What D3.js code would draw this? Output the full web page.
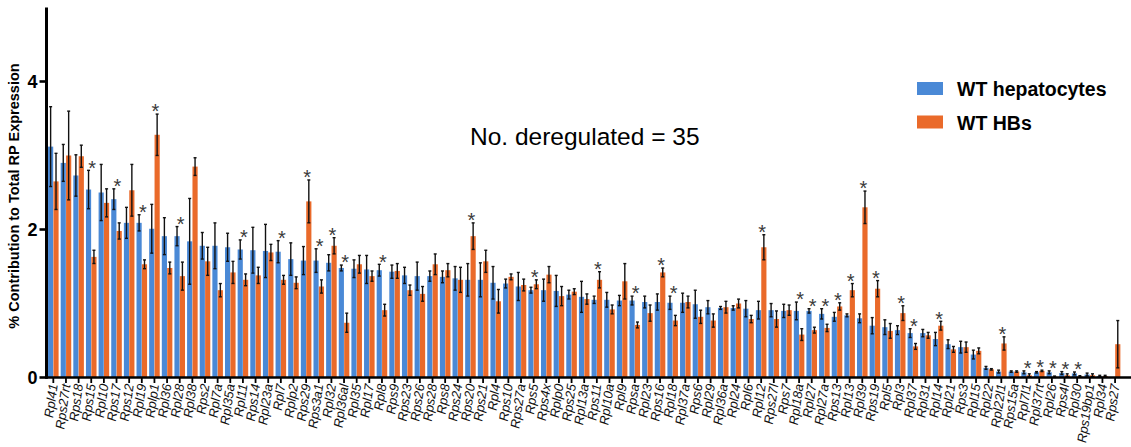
<!DOCTYPE html>
<html>
<head>
<meta charset="utf-8">
<title>RP expression</title>
<script src="https://cdn.jsdelivr.net/npm/d3@7"></script>
<style>
  body { margin: 0; background: #fff; }
  svg { display: block; font-family: "Liberation Sans", Arial, sans-serif; }
</style>
</head>
<body>
<div id="chart"></div>
<script>
// genes, in plotted order
var genes = ["Rpl41","Rps27rt","Rps18","Rps15","Rpl10","Rps17","Rps12","Rpl19","Rplp1","Rpl36",
  "Rpl28","Rpl38","Rps2","Rpl7a","Rpl35a","Rpl11","Rps14","Rpl23a","Rpl7","Rplp2",
  "Rps29","Rps3a1","Rpl32","Rpl36al","Rpl35","Rpl17","Rpl8","Rps9","Rps23","Rps26",
  "Rps28","Rps8","Rps24","Rps20","Rps21","Rpl4","Rps10","Rps27a","Rps5","Rps4x",
  "Rplp0","Rps25","Rpl13a","Rps11","Rpl10a","Rpl9","Rpsa","Rpl23","Rps16","Rpl18",
  "Rpl37a","Rps6","Rpl29","Rpl36a","Rpl24","Rpl6","Rpl12","Rps27l","Rps7","Rpl18a",
  "Rpl27","Rpl27a","Rps13","Rpl13","Rpl39","Rps19","Rpl5","Rpl3","Rpl37","Rpl31",
  "Rpl14","Rpl21","Rps3","Rpl15","Rpl22","Rpl22l1","Rps15a","Rpl7l1","Rpl37rt","Rpl26",
  "Rps4l","Rpl30","Rps19bp1","Rpl34","Rps27"];

// WT hepatocytes: mean and sd
var hepMean = [3.12,2.90,2.73,2.54,2.50,2.41,2.09,2.09,2.01,1.91,
  1.91,1.84,1.78,1.78,1.76,1.73,1.72,1.71,1.70,1.60,
  1.58,1.58,1.55,1.48,1.47,1.46,1.45,1.43,1.38,1.37,
  1.37,1.36,1.34,1.32,1.32,1.28,1.27,1.23,1.18,1.18,
  1.17,1.12,1.09,1.05,1.05,1.04,1.04,1.02,1.02,1.01,
  1.01,0.99,0.95,0.94,0.94,0.93,0.91,0.91,0.90,0.90,
  0.90,0.86,0.82,0.84,0.80,0.70,0.68,0.64,0.60,0.60,
  0.52,0.45,0.41,0.31,0.13,0.08,0.08,0.07,0.07,0.07,
  0.06,0.055,0.04,0.02,0];
var hepSd = [0.53,0.24,0.27,0.25,0.37,0.13,0.20,0.10,0.32,0.24,
  0.12,0.57,0.17,0.30,0.18,0.12,0.30,0.35,0.14,0.21,
  0.18,0.15,0.10,0.03,0.11,0.18,0.07,0.08,0.10,0.18,
  0.06,0.07,0.15,0.21,0.22,0.21,0.05,0.18,0.03,0.14,
  0.20,0.05,0.20,0.04,0.09,0.06,0.05,0.07,0.10,0.08,
  0.12,0.18,0.08,0.01,0.02,0.10,0.11,0.08,0.08,0.11,
  0.02,0.06,0.05,0.01,0.05,0.10,0.09,0.05,0.05,0.04,
  0.08,0.05,0.07,0.05,0.01,0.01,0,0.01,0,0.01,
  0.01,0.01,0.01,0,0];

// WT HBs: mean and sd
var hbMean = [2.65,3.00,2.99,1.63,2.36,1.98,2.53,1.53,3.28,1.48,
  1.37,2.85,1.57,1.18,1.42,1.32,1.38,1.69,1.32,1.28,
  2.38,1.23,1.78,0.74,1.53,1.37,0.91,1.44,1.18,1.13,
  1.53,1.45,1.32,1.91,1.57,1.03,1.36,1.25,1.26,1.39,
  1.10,1.16,1.06,1.32,0.92,1.30,0.71,0.87,1.42,0.77,
  1.02,0.82,0.77,0.95,1.00,0.79,1.76,0.79,0.91,0.58,
  0.64,0.67,0.96,1.18,2.30,1.20,0.63,0.87,0.42,0.57,
  0.70,0.38,0.41,0.36,0.11,0.46,0.08,0.03,0.09,0.01,
  0.03,0.015,0.03,0.02,0.45];
var hbSd = [0.37,0.59,0.14,0.08,0.18,0.10,0.34,0.05,0.27,0.07,
  0.18,0.11,0.18,0.08,0.14,0.07,0.10,0.10,0.05,0.07,
  0.28,0.08,0.10,0.12,0.11,0.06,0.07,0.09,0.06,0.09,
  0.13,0.08,0.16,0.17,0.14,0.15,0.03,0.07,0.05,0.10,
  0.12,0.03,0.06,0.10,0.05,0.23,0.03,0.10,0.05,0.06,
  0.07,0.08,0.08,0.07,0.05,0.04,0.16,0.10,0.06,0.07,
  0.03,0.04,0.04,0.08,0.21,0.10,0.09,0.09,0.03,0.03,
  0.05,0.03,0.06,0.03,0,0.08,0,0.01,0,0,
  0.01,0,0.01,0,0.31];

// genes marked as deregulated
var starred = ["Rps15","Rps17","Rpl19","Rplp1","Rpl28","Rpl11","Rpl7","Rps29","Rps3a1","Rpl32",
  "Rpl36al","Rpl8","Rps20","Rps5","Rps11","Rpsa","Rps16","Rpl18","Rpl12","Rpl18a",
  "Rpl27","Rpl27a","Rps13","Rpl13","Rpl39","Rps19","Rpl3","Rpl37","Rpl14","Rpl22l1",
  "Rpl7l1","Rpl37rt","Rpl26","Rps4l","Rpl30"];

var groups = ["WT hepatocytes", "WT HBs"];
var colors = ["#4a89d6", "#ea6a2a"];
var yTicks = [0, 2, 4];

var width = 1131, height = 447;
var svg = d3.select("#chart").append("svg")
  .attr("width", width).attr("height", height);
svg.append("rect").attr("width", width).attr("height", height).attr("fill", "#fff");

var x = d3.scaleBand().domain(genes).range([47, 1121.4]).paddingInner(0.13).paddingOuter(0.065);
var xs = d3.scaleBand().domain([0, 1]).range([0, x.bandwidth()]).padding(0.04);
var y = d3.scaleLinear().domain([0, 5]).range([377.5, 7.5]);

var rows = genes.map(function(g, i) {
  return { gene: g, vals: [
    { k: 0, m: hepMean[i], s: hepSd[i] },
    { k: 1, m: hbMean[i], s: hbSd[i] } ] };
});

var gg = svg.append("g").selectAll("g").data(rows).enter().append("g")
  .attr("transform", function(d) { return "translate(" + x(d.gene) + ",0)"; });

gg.selectAll("rect").data(function(d) { return d.vals; }).enter().append("rect")
  .attr("x", function(d) { return xs(d.k); })
  .attr("width", xs.bandwidth())
  .attr("y", function(d) { return y(d.m); })
  .attr("height", function(d) { return y(0) - y(d.m); })
  .attr("fill", function(d) { return colors[d.k]; });

// error bars
var eb = gg.selectAll("g.err").data(function(d) { return d.vals.filter(function(v) { return v.m > 0; }); })
  .enter().append("g").attr("class", "err")
  .attr("stroke", "#111").attr("stroke-width", 1.4);
eb.append("line")
  .attr("x1", function(d) { return xs(d.k) + xs.bandwidth() / 2; })
  .attr("x2", function(d) { return xs(d.k) + xs.bandwidth() / 2; })
  .attr("y1", function(d) { return y(d.m + d.s) - 0.7; })
  .attr("y2", function(d) { return y(Math.max(0, d.m - d.s)) + 0.7; });
eb.append("line")
  .attr("x1", function(d) { return xs(d.k) + xs.bandwidth() / 2 - 1.5; })
  .attr("x2", function(d) { return xs(d.k) + xs.bandwidth() / 2 + 1.5; })
  .attr("y1", function(d) { return y(d.m + d.s) - 0.7; })
  .attr("y2", function(d) { return y(d.m + d.s) - 0.7; });
eb.append("line")
  .attr("x1", function(d) { return xs(d.k) + xs.bandwidth() / 2 - 1.5; })
  .attr("x2", function(d) { return xs(d.k) + xs.bandwidth() / 2 + 1.5; })
  .attr("y1", function(d) { return y(Math.max(0, d.m - d.s)) + 0.7; })
  .attr("y2", function(d) { return y(Math.max(0, d.m - d.s)) + 0.7; });

// stars above the deregulated genes
gg.filter(function(d) { return starred.indexOf(d.gene) >= 0; })
  .append("text")
  .attr("x", x.bandwidth() / 2 + 1)
  .attr("y", function(d) {
    var top = d3.max(d.vals, function(v) { return v.m + v.s; });
    return y(top) - 8 + 11.5;
  })
  .attr("text-anchor", "middle")
  .attr("font-size", 20)
  .attr("fill", "#3a3a3a")
  .text("*");

// x axis
var xAxis = svg.append("g").attr("transform", "translate(0,377.5)");
xAxis.append("line").attr("x1", 46).attr("x2", 1131).attr("stroke", "#000").attr("stroke-width", 2.6);
xAxis.selectAll("line.tk").data(genes).enter().append("line").attr("class", "tk")
  .attr("x1", function(d) { return x(d) + x.bandwidth() / 2; })
  .attr("x2", function(d) { return x(d) + x.bandwidth() / 2; })
  .attr("y1", 0).attr("y2", 5.5)
  .attr("stroke", "#000").attr("stroke-width", 1.8);
xAxis.selectAll("text").data(genes).enter().append("text")
  .attr("transform", function(d) { return "translate(" + (x(d) + x.bandwidth() / 2) + ",6.5) rotate(-82)"; })
  .attr("dy", "0.35em")
  .attr("text-anchor", "end")
  .attr("font-size", 13)
  .attr("font-style", "italic")
  .attr("fill", "#111")
  .text(function(d) { return d; });

// y axis
var yAxis = svg.append("g").attr("transform", "translate(46.5,0)");
yAxis.append("line").attr("y1", y(5)).attr("y2", y(0) + 1.3).attr("stroke", "#000").attr("stroke-width", 3);
yAxis.selectAll("line.tk").data(yTicks).enter().append("line").attr("class", "tk")
  .attr("x1", -7).attr("x2", 0)
  .attr("y1", function(d) { return y(d); }).attr("y2", function(d) { return y(d); })
  .attr("stroke", "#000").attr("stroke-width", 2.6);
yAxis.selectAll("text").data(yTicks).enter().append("text")
  .attr("x", -9).attr("y", function(d) { return y(d); })
  .attr("dy", "0.36em")
  .attr("text-anchor", "end")
  .attr("font-size", 18).attr("font-weight", "bold")
  .text(function(d) { return d; });

svg.append("text")
  .attr("transform", "translate(19,196) rotate(-90)")
  .attr("text-anchor", "middle")
  .attr("font-size", 14.5).attr("font-weight", "bold")
  .text("% Contribution to Total RP Expression");

// annotation
svg.append("text")
  .attr("x", 470).attr("y", 145)
  .attr("font-size", 24.5)
  .text("No. deregulated = 35");

// legend
var lg = svg.append("g").selectAll("g").data(groups).enter().append("g")
  .attr("transform", function(d, i) { return "translate(917," + (82 + i * 33.5) + ")"; });
lg.append("rect").attr("width", 26).attr("height", 13)
  .attr("fill", function(d, i) { return colors[i]; });
lg.append("text").attr("x", 40).attr("y", 14)
  .attr("font-size", 19.5).attr("font-weight", "bold")
  .text(function(d) { return d; });
</script>
</body>
</html>
